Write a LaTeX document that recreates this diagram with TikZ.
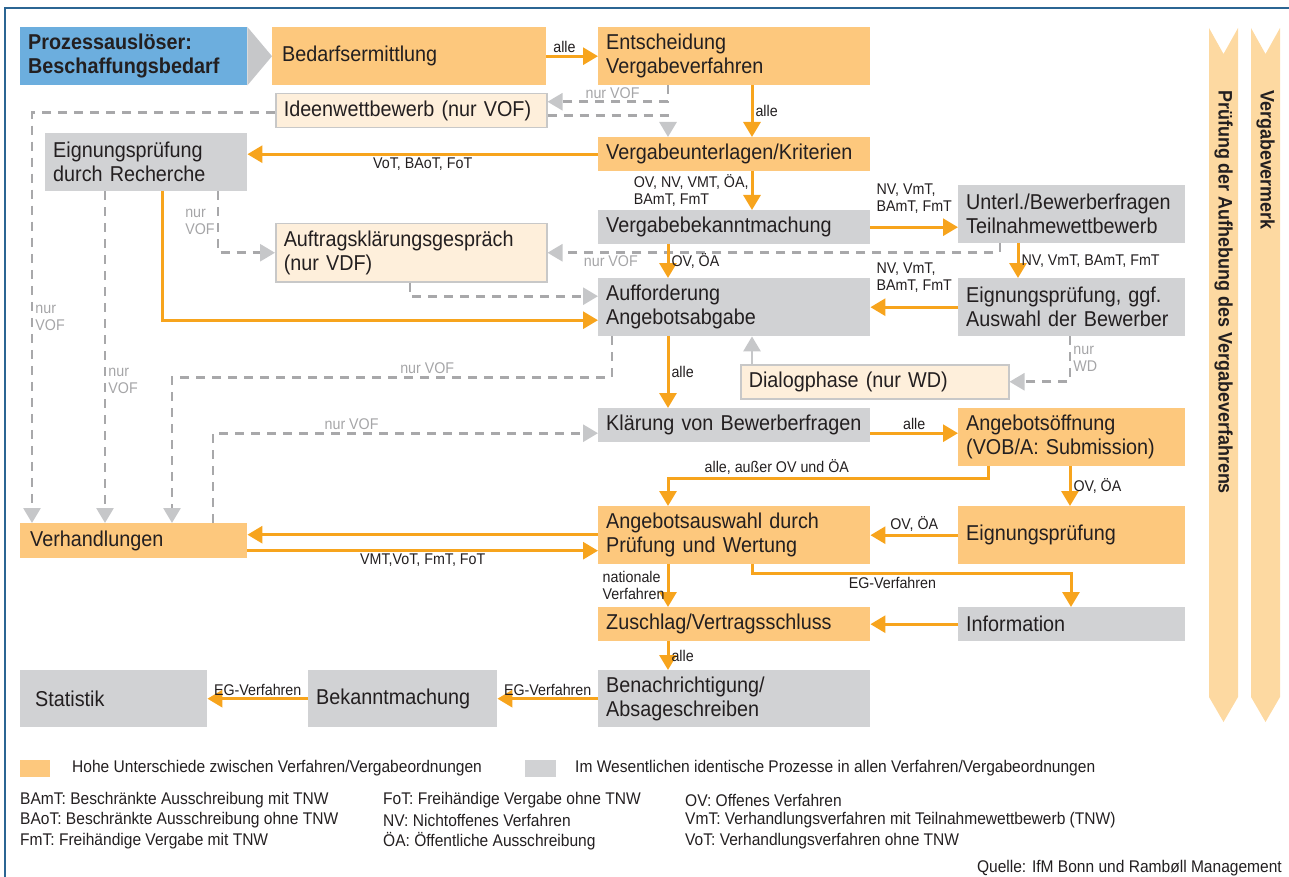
\documentclass[tikz,border=0pt]{standalone}
\usepackage{fontspec}
\setmainfont{Liberation Sans}[FakeStretch=0.92]
\usetikzlibrary{arrows.meta}

\definecolor{boxorange}{HTML}{FDC87D}
\definecolor{lineorange}{HTML}{F7A41D}
\definecolor{boxgray}{HTML}{D1D2D4}
\definecolor{boxcream}{HTML}{FEEFDB}
\definecolor{creamline}{HTML}{C8C8C8}
\definecolor{boxblue}{HTML}{6CAEDE}
\definecolor{dashgray}{HTML}{A8A8AA}
\definecolor{tipgray}{HTML}{C6C7C9}
\definecolor{bandpeach}{HTML}{FDD9A1}
\definecolor{frameblue}{HTML}{2B6593}
\definecolor{textdark}{HTML}{231F20}
\definecolor{labelgray}{HTML}{A5A5A7}

\newcommand\boxfont{\fontsize{21.5}{24}\selectfont}
\newcommand\lblfont{\fontsize{15.5}{17}\selectfont}
\newcommand\legfont{\fontsize{16.9}{20}\selectfont}
\newcommand\bandfont{\fontsize{19.5}{22}\selectfont\bfseries}

\begin{document}
\begin{tikzpicture}[x=1pt,y=-1pt]
	\tikzset{box/.style={anchor=north west, inner xsep=8pt, inner ysep=0pt, align=left, font=\boxfont, text=textdark,
			minimum width=#1, /utils/exec={\pgfmathsetlengthmacro\boxtw{#1-16}}, text width=\boxtw}}
	\tikzset{oneline/.style={minimum height=34pt}, twoline/.style={minimum height=58pt}}
	\tikzset{obox/.style={fill=boxorange}, gbox/.style={fill=boxgray}, cbox/.style={fill=boxcream, draw=creamline, line width=1.5pt}}
	\tikzset{oarrow/.style={draw=lineorange, line width=3pt, -{Triangle[length=15pt,width=17pt]}}}
	\tikzset{gline/.style={draw=tipgray, line width=2.8pt, -{Triangle[length=15pt,width=17pt,color=tipgray]}}}
	\tikzset{garrow/.style={gline, draw=dashgray, dash pattern=on 9pt off 7pt}}
	\tikzset{lbl/.style={font=\lblfont, text=textdark, inner sep=2pt, align=left}, glbl/.style={lbl, text=labelgray}}
	\tikzset{abk/.style={font=\legfont, text=textdark, anchor=west, inner sep=0pt}}

	\useasboundingbox (0,0) rectangle (1289,877);
	\draw[frameblue, line width=1.5pt] (5,877) -- (5,8) -- (1289,8);

	\node[box=227, twoline, fill=boxblue, font=\boxfont\bfseries] (ausloeser) at (20,27) {Prozessauslöser:\\Beschaffungsbedarf};
	\node[box=274, twoline, obox] (bedarf) at (272,27) {\hspace*{2pt}Bedarfsermittlung};
	\node[box=272, twoline, obox] (entscheid) at (598,27) {Entscheidung\\Vergabeverfahren};
	\node[box=271, oneline, cbox] (ideen) at (275,93) {Ideenwettbewerb (nur VOF)};
	\node[box=202, twoline, gbox] (recherche) at (45,133) {Eignungsprüfung\\durch Recherche};
	\node[box=272, oneline, obox] (unterlagen) at (598,137) {Vergabeunterlagen/Kriterien};
	\node[box=227, twoline, gbox] (teilnahme) at (958,185) {Unterl./Bewerberfragen\\Teilnahmewettbewerb};
	\node[box=272, oneline, gbox] (bekannt) at (598,210) {Vergabebekanntmachung};
	\node[box=271, twoline, cbox] (auftrag) at (275,223) {Auftragsklärungsgespräch\\(nur VDF)};
	\node[box=272, twoline, gbox] (aufford) at (598,278) {Aufforderung\\Angebotsabgabe};
	\node[box=227, twoline, gbox] (bewerber) at (958,278) {Eignungsprüfung, ggf.\\Auswahl der Bewerber};
	\node[box=268, oneline, cbox] (dialog) at (740,364) {Dialogphase (nur WD)};
	\node[box=272, oneline, gbox] (klaerung) at (598,408) {Klärung von Bewerberfragen};
	\node[box=227, twoline, obox] (oeffnung) at (958,408) {Angebotsöffnung\\(VOB/A: Submission)};
	\node[box=272, twoline, obox] (auswahl) at (598,506) {Angebotsauswahl durch\\Prüfung und Wertung};
	\node[box=227, twoline, obox] (eignung) at (958,506) {Eignungsprüfung};
	\node[box=227, oneline, obox, minimum height=35pt] (verhandl) at (20,523) {\hspace*{2pt}Verhandlungen};
	\node[box=272, oneline, obox] (zuschlag) at (598,607) {Zuschlag/Vertragsschluss};
	\node[box=227, oneline, gbox] (info) at (958,607) {Information};
	\node[box=272, twoline, gbox, minimum height=57pt] (benach) at (598,670) {Benachrichtigung/\\Absageschreiben};
	\node[box=189, twoline, gbox, minimum height=57pt] (bekanntm) at (308,670) {Bekanntmachung};
	\node[box=187, twoline, gbox, minimum height=57pt] (statistik) at (20,670) {\hspace*{7pt}Statistik};

	\fill[tipgray] (ausloeser.north east) -- (ausloeser.east -| bedarf.west) -- (ausloeser.south east) -- cycle;

	\draw[oarrow] (bedarf) -- node[lbl, above, pos=0.35] (l1) {alle} (entscheid);
	\draw[garrow] ([xshift=70pt]entscheid.south west) |- ([yshift=9pt]ideen.east) node[glbl, pos=0.73, above] (l2) {nur VOF};
	\draw[garrow] ([yshift=-5pt]ideen.east) -| ([xshift=70pt]unterlagen.north west);
	\draw[garrow] ([yshift=-2pt]ideen.west) -| ([xshift=12pt]verhandl.north west) node[glbl, pos=0.75, right] (l3) {nur\\VOF};
	\draw[oarrow] ([xshift=154pt]entscheid.south west) -- node[lbl, right] (l4) {alle} ([xshift=154pt]unterlagen.north west);
	\draw[oarrow] (unterlagen.west) -- node[lbl, below] (l5) {VoT, BAoT, FoT} (unterlagen.west -| recherche.east);
	\draw[garrow] ([xshift=60pt]recherche.south west) -- node[glbl, pos=0.57, right] (l6) {nur\\VOF} ([xshift=85pt]verhandl.north west);
	\draw[oarrow] ([xshift=117pt]recherche.south west) |- ([yshift=-13pt]aufford.west);
	\draw[garrow] ([xshift=173pt]recherche.south west) |- (auftrag.west) node[glbl, pos=0.25, left] (l7) {nur\\VOF};
	\draw[oarrow] ([xshift=154pt]unterlagen.south west) -- node[lbl, left] (l8) {OV, NV, VMT, ÖA,\\BAmT, FmT} ([xshift=154pt]bekannt.north west);
	\draw[oarrow] (bekannt.east) -- node[lbl, above=10pt] (l9) {NV, VmT,\\BAmT, FmT} (bekannt.east -| teilnahme.west);
	\draw[garrow] ([xshift=42pt]teilnahme.south west) |- (auftrag.east) node[glbl, pos=0.93, below] (l10) {nur VOF};
	\draw[oarrow] ([xshift=70pt]bekannt.south west) -- node[lbl, right] (l11) {OV, ÖA} ([xshift=70pt]aufford.north west);
	\draw[oarrow] ([xshift=60pt]teilnahme.south west) -- node[lbl, right] (l12) {NV, VmT, BAmT, FmT} ([xshift=60pt]bewerber.north west);
	\draw[oarrow] (bewerber.west) -- node[lbl, above=11pt] (l13) {NV, VmT,\\BAmT, FmT} (bewerber.west -| aufford.east);
	\draw[garrow] ([xshift=135pt]auftrag.south west) |- ([yshift=11pt]aufford.west);
	\draw[garrow] ([xshift=14pt]aufford.south west) -- ++(0,41) -| node[glbl, pos=0.21, above] (l14) {nur VOF} ([xshift=152pt]verhandl.north west);
	\draw[oarrow] ([xshift=70pt]aufford.south west) -- node[lbl, right] (l15) {alle} ([xshift=70pt]klaerung.north west);
	\draw[gline] ([xshift=12pt]dialog.north west) -- ([xshift=154pt]aufford.south west);
	\draw[garrow] ([xshift=112pt]bewerber.south west) |- (dialog.east) node[glbl, pos=0.25, right] (l16) {nur\\WD};
	\draw[garrow] ([xshift=193pt]verhandl.north west) |- ([yshift=-8pt]klaerung.west) node[glbl, pos=0.68, above] (l17) {nur VOF};
	\draw[oarrow] ([yshift=-8pt]klaerung.east) -- node[lbl, above] (l18) {alle} ([yshift=-8pt]klaerung.east -| oeffnung.west);
	\draw[oarrow] ([xshift=30pt]oeffnung.south west) -- ++(0,12) -| node[lbl, pos=0.33, above] (l19) {alle, außer OV und ÖA} ([xshift=70pt]auswahl.north west);
	\draw[oarrow] ([xshift=112pt]oeffnung.south west) -- node[lbl, right] (l20) {OV, ÖA} ([xshift=112pt]eignung.north west);
	\draw[oarrow] (eignung) -- node[lbl, above] (l21) {OV, ÖA} (auswahl);
	\draw[oarrow] ([yshift=6pt]verhandl.east -| auswahl.west) -- ([yshift=6pt]verhandl.east);
	\draw[oarrow] ([yshift=-10pt]verhandl.east) -- node[lbl, below] (l22) {VMT,VoT, FmT, FoT} ([yshift=-10pt]verhandl.east -| auswahl.west);
	\draw[oarrow] ([xshift=70pt]auswahl.south west) -- node[lbl, left] (l23) {nationale\\Verfahren} ([xshift=70pt]zuschlag.north west);
	\draw[oarrow] ([xshift=154pt]auswahl.south west) -- ++(0,9) -| node[lbl, pos=0.22, below] (l24) {EG-Verfahren} ([xshift=113pt]info.north west);
	\draw[oarrow] (info) -- (zuschlag);
	\draw[oarrow] ([xshift=70pt]zuschlag.south west) -- node[lbl, right] (l25) {alle} ([xshift=70pt]benach.north west);
	\draw[oarrow] (benach) -- node[lbl, above] (l26) {EG-Verfahren} (bekanntm);
	\draw[oarrow] (bekanntm) -- node[lbl, above] (l27) {EG-Verfahren} (statistik);

	% Vergabevermerk und Aufhebung
	\fill[bandpeach] (1209,28) -- (1223.5,54) -- (1238,28) -- (1238,697) -- (1223.5,722) -- (1209,697) -- cycle;
	\fill[bandpeach] (1251,28) -- (1265.5,54) -- (1280,28) -- (1280,697) -- (1265.5,722) -- (1251,697) -- cycle;
	\node[rotate=-90, anchor=west, font=\bandfont, text=textdark, inner sep=0pt] (aufhebung) at (1223.5,90) {Prüfung der Aufhebung des Vergabeverfahrens};
	\node[rotate=-90, anchor=west, font=\bandfont, text=textdark, inner sep=0pt] (vermerk) at (1265.5,90) {Vergabevermerk};

	% Legende
	\node[fill=boxorange, minimum width=30pt, minimum height=17pt, anchor=north west, inner sep=0pt] (leghoch) at (20,760) {};
	\node[abk] (leghochtxt) at (72,768.5) {Hohe Unterschiede zwischen Verfahren/Vergabeordnungen};
	\node[fill=boxgray, minimum width=31pt, minimum height=17pt, anchor=north west, inner sep=0pt] (leggleich) at (525,760) {};
	\node[abk] (leggleichtxt) at (575,768.5) {Im Wesentlichen identische Prozesse in allen Verfahren/Vergabeordnungen};
	\node[abk] (bamt) at (20,800) {BAmT: Beschränkte Ausschreibung mit TNW};
	\node[abk] (baot) at (20,820) {BAoT: Beschränkte Ausschreibung ohne TNW};
	\node[abk] (fmt) at (20,841) {FmT: Freihändige Vergabe mit TNW};
	\node[abk] (fot) at (383,800) {FoT: Freihändige Vergabe ohne TNW};
	\node[abk] (nv) at (383,820) {NV: Nichtoffenes Verfahren};
	\node[abk] (oea) at (383,841) {ÖA: Öffentliche Ausschreibung};
	\node[abk] (ov) at (685,800) {OV: Offenes Verfahren};
	\node[abk] (vmt) at (685,820) {VmT: Verhandlungsverfahren mit Teilnahmewettbewerb (TNW)};
	\node[abk] (vot) at (685,841) {VoT: Verhandlungsverfahren ohne TNW};
	\node[abk, anchor=east] (quelle) at (1282,868) {Quelle: IfM Bonn und Rambøll Management};
\end{tikzpicture}
\end{document}
